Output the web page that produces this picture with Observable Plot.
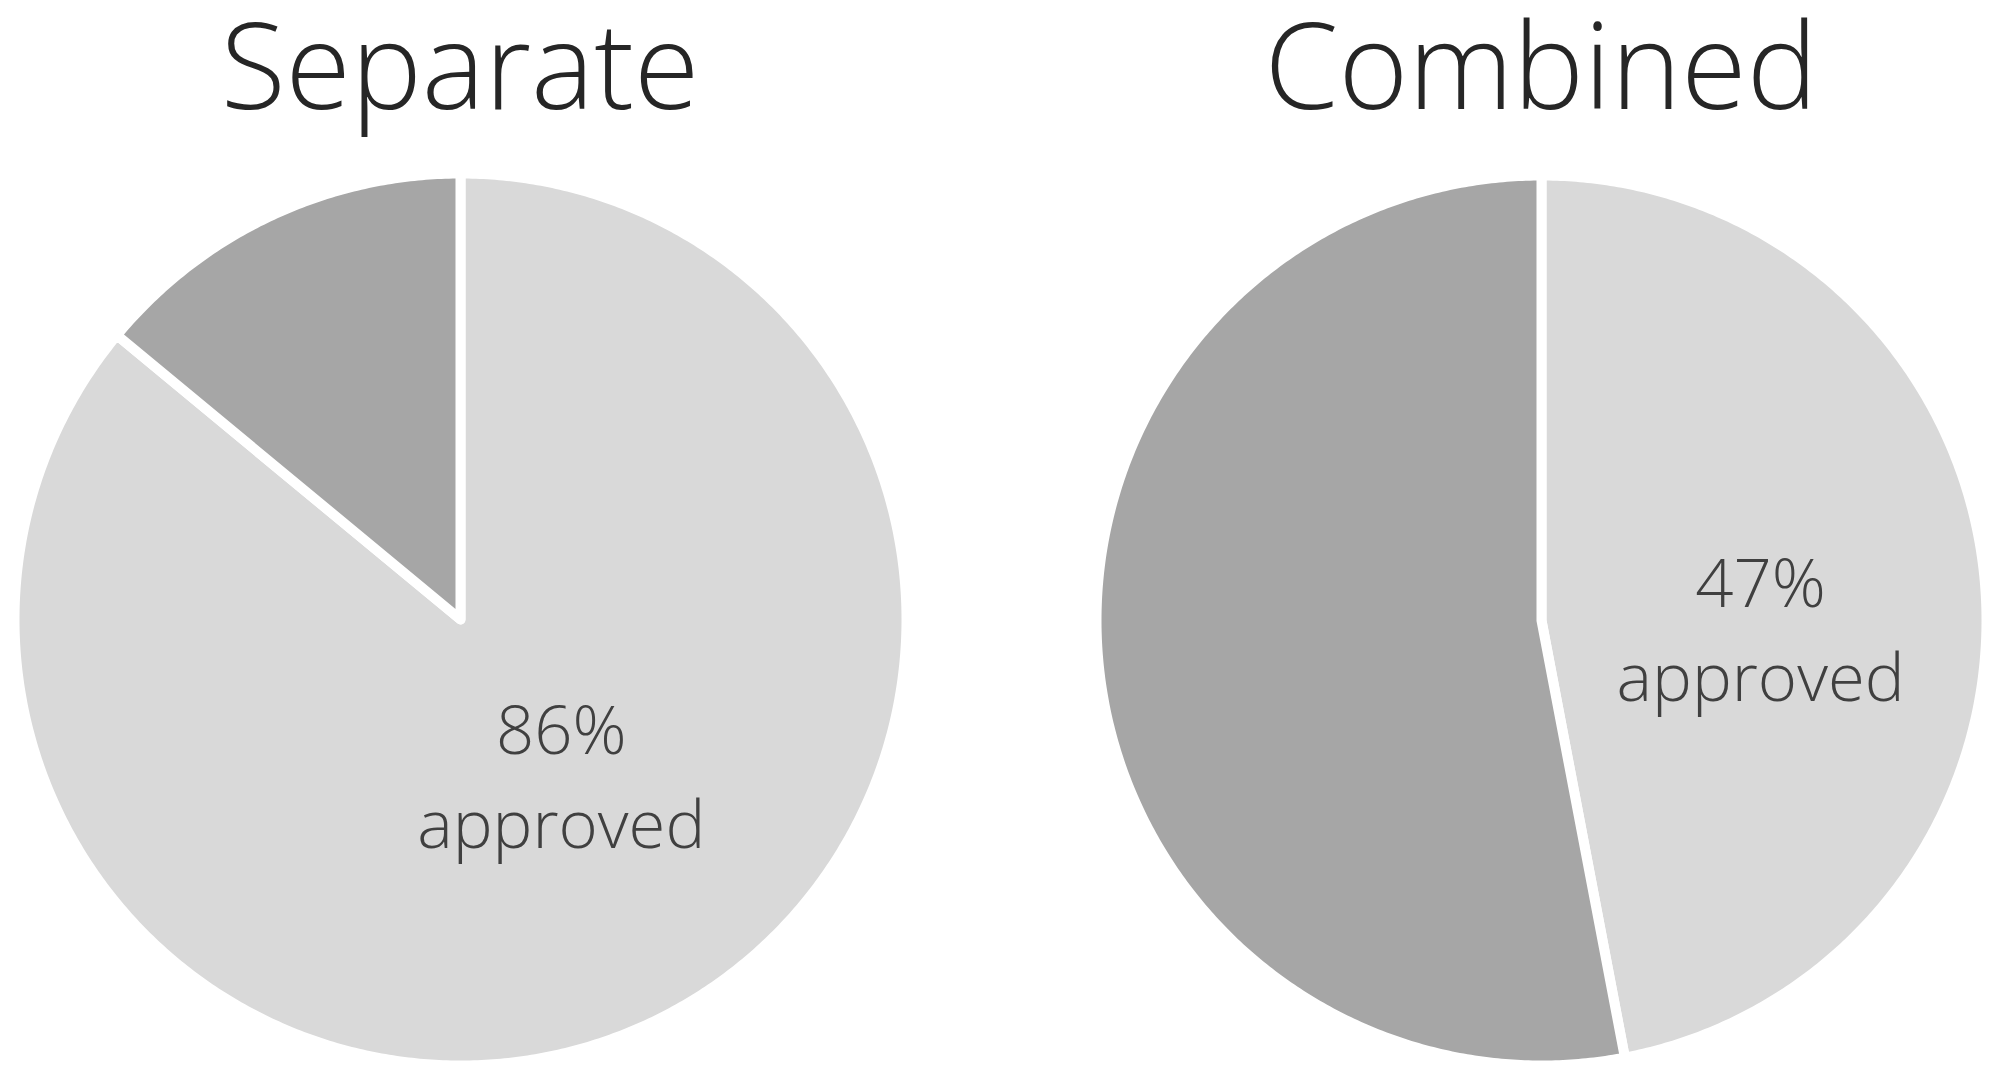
<!DOCTYPE html>
<html>
<head>
<meta charset="utf-8">
<script src="https://cdn.jsdelivr.net/npm/d3@7"></script>
<script src="https://cdn.jsdelivr.net/npm/@observablehq/plot@0.6"></script>
<style>
  html, body { margin: 0; padding: 0; background: #fff; }
  #root { position: relative; width: 2000px; height: 1080px; overflow: hidden; font-family: "Open Sans", sans-serif; }
  .title { position: absolute; top: 0px; transform: translateX(-50%); font-size: 119px; line-height: 126px; color: #262626; white-space: nowrap; font-weight: 300; }
  .panel { position: absolute; top: 150px; }
</style>
</head>
<body>
<div id="root"></div>
<script>
// ---- data ----
const panels = ["Separate", "Combined"];
const categories = ["approved", "not approved"];
const approvedPct = [86, 47];
const notApprovedPct = [14, 53];
const labelText = ["86%\napproved", "47%\napproved"];

// ---- layout (not data) ----
const layout = [
  {left: 0,    cx: 460, cy: 469, R: 446, labelR: 0.42, dx: 21, dy: -18},
  {left: 1000, cx: 541, cy: 470, R: 445, labelR: 0.49, dx: 2,  dy: 24}
];
const colors = ["#d9d9d9", "#a6a6a6"];

const root = document.getElementById("root");

panels.forEach((name, i) => {
  const values = [approvedPct[i], notApprovedPct[i]];
  const arcs = d3.pie().sort(null).startAngle(0).endAngle(2 * Math.PI)(values);
  const pts = [];
  const labels = [];
  arcs.forEach((a, k) => {
    const cat = categories[k];
    pts.push({x: 0, y: 0, slice: cat});
    const n = Math.max(2, Math.ceil((a.endAngle - a.startAngle) / (Math.PI / 360)));
    for (let j = 0; j <= n; j++) {
      const t = a.startAngle + (a.endAngle - a.startAngle) * j / n;
      pts.push({x: Math.sin(t), y: Math.cos(t), slice: cat});
    }
    pts.push({x: 0, y: 0, slice: cat});
    if (k === 0) {
      const mid = (a.startAngle + a.endAngle) / 2;
      labels.push({x: layout[i].labelR * Math.sin(mid), y: layout[i].labelR * Math.cos(mid), text: labelText[i]});
    }
  });

  const L = layout[i];
  const svg = Plot.plot({
    width: 1000,
    height: 930,
    margin: 0,
    style: {background: "transparent", overflow: "visible"},
    x: {domain: [-1, 1], range: [L.cx - L.R, L.cx + L.R], axis: null},
    y: {domain: [-1, 1], range: [L.cy + L.R, L.cy - L.R], axis: null},
    color: {domain: categories, range: colors},
    marks: [
      Plot.line(pts, {x: "x", y: "y", z: "slice", fill: "slice", stroke: "white", strokeWidth: 10, strokeLinejoin: "miter", strokeMiterlimit: 4, curve: "linear"}),
      Plot.text(labels, {x: "x", y: "y", text: "text", dx: L.dx, dy: L.dy, fontSize: 67, fontWeight: 300, lineHeight: 1.4, fill: "#404040", fontFamily: "Open Sans", textAnchor: "middle", lineAnchor: "middle"})
    ]
  });

  const panel = document.createElement("div");
  panel.className = "panel";
  panel.style.left = L.left + "px";
  panel.appendChild(svg);
  root.appendChild(panel);

  const title = document.createElement("div");
  title.className = "title";
  title.style.left = (L.left + L.cx) + "px";
  title.textContent = name;
  root.appendChild(title);
});
</script>
</body>
</html>
